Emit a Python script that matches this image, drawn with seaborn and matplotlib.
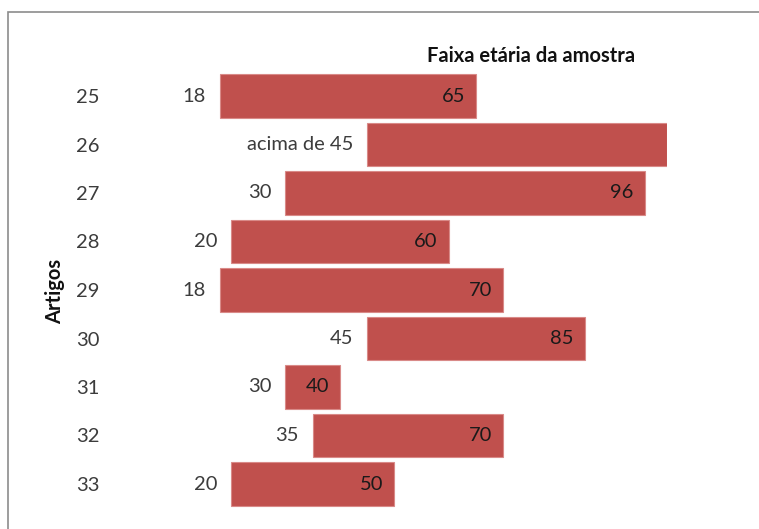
import matplotlib
matplotlib.use("Agg")
import matplotlib.pyplot as plt
import seaborn as sns
import pandas as pd
from matplotlib.patches import Rectangle

artigos = ["25", "26", "27", "28", "29", "30", "31", "32", "33"]
inicio = [18, 45, 30, 20, 18, 45, 30, 35, 20]
fim = [65, 100, 96, 60, 70, 85, 40, 70, 50]
rotulo_inicio = ["18", "acima de 45", "30", "20", "18", "45", "30", "35", "20"]
rotulo_fim = ["65", "", "96", "60", "70", "85", "40", "70", "50"]

sns.set_theme(style="white")
plt.rcParams["font.family"] = ["Lato", "DejaVu Sans"]

FS = 14.5

df = pd.DataFrame({"artigo": artigos, "inicio": inicio, "fim": fim})
df["largura"] = df["fim"] - df["inicio"]

fig = plt.figure(figsize=(7.59, 5.29), dpi=100)
ax = fig.add_axes([122 / 759, 1 - 508.25 / 529, 544.7 / 759, (508.25 - 71.75) / 529])

sns.barplot(data=df, x="largura", y="artigo", orient="h", left=df["inicio"].values,
            color="#C0504D", saturation=1, width=0.9, edgecolor="#D98A88",
            linewidth=0.8, ax=ax)

ax.set_xlim(0, 100)
ax.set_ylim(8.5, -0.5)
for s in ax.spines.values():
    s.set_visible(False)
ax.set_xticks([])
ax.set_xlabel("")
ax.set_ylabel("")
ax.tick_params(axis="y", length=0, pad=16, labelsize=FS, labelcolor="#3c3c3c")

for i in range(len(artigos)):
    ax.annotate(rotulo_inicio[i], (inicio[i], i), xytext=(-10, 0), textcoords="offset points",
                ha="right", va="center", fontsize=FS, color="#3c3c3c")
    if rotulo_fim[i]:
        ax.annotate(rotulo_fim[i], (fim[i], i), xytext=(-8, 0), textcoords="offset points",
                    ha="right", va="center", fontsize=FS, color="#1a1a1a")

fig.text(531 / 759, 1 - 56 / 529, "Faixa etária da amostra", ha="center", va="center",
         fontsize=FS, fontweight="bold", color="#111111")
fig.text(55 / 759, 1 - 291 / 529, "Artigos", ha="center", va="center", rotation=90,
         fontsize=FS, fontweight="bold", color="#111111")

fig.add_artist(Rectangle((8 / 759, -0.1), 2, 1.1 - 12 / 529, transform=fig.transFigure,
                         fill=False, edgecolor="#8c8c8c", linewidth=1.2))

fig.savefig("out.png", dpi=100)
